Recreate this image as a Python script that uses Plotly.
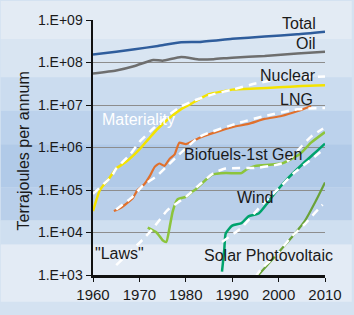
import plotly.graph_objects as go

# ---------------- data ----------------
total_years = [1960, 1965, 1969, 1974, 1979, 1983, 1990, 1997, 2004, 2010]
total_vals = [1.55e8, 1.8e8, 2.05e8, 2.45e8, 3.0e8, 3.05e8, 3.6e8, 4.1e8, 4.6e8, 5.3e8]

oil_years = [1960, 1965, 1969, 1973, 1975, 1979, 1983, 1986, 1990, 1997, 2004, 2010]
oil_vals = [5.5e7, 6.5e7, 8.3e7, 1.15e8, 1.1e8, 1.35e8, 1.18e8, 1.2e8, 1.3e8, 1.42e8, 1.62e8, 1.8e8]

nuc_years = [1960, 1961.5, 1963.5, 1965, 1967, 1969, 1970, 1972, 1974, 1977, 1979, 1981,
             1983, 1985, 1988, 1990, 1995, 2000, 2005, 2010]
nuc_vals = [3.2e4, 1.0e5, 1.9e5, 3.2e5, 4.5e5, 7.0e5, 9.0e5, 1.6e6, 2.8e6, 5.5e6, 8.0e6, 1.05e7,
            1.4e7, 1.8e7, 2.1e7, 2.3e7, 2.45e7, 2.6e7, 2.8e7, 2.9e7]
nuc_fit_years = [1960, 1964, 1965, 1968, 1970, 1973, 1976, 1979, 1982, 1986, 1990, 1995, 2000, 2005, 2010]
nuc_fit_vals = [8.1e4, 2.1e5, 3.2e5, 6.9e5, 1.35e6, 2.8e6, 5.5e6, 9.3e6, 1.3e7, 1.8e7, 2.3e7,
                3.2e7, 4.0e7, 4.4e7, 4.7e7]

lng_years = [1964.5, 1966, 1968.5, 1969.6, 1971, 1972.2, 1973.3, 1974.3, 1975.4, 1976.5, 1977.6,
             1978.6, 1980, 1983, 1986.5, 1990, 1993.5, 1997, 2000.6, 2004, 2007]
lng_vals = [3.2e4, 3.8e4, 6.3e4, 1.0e5, 1.35e5, 2.1e5, 3.5e5, 4.2e5, 3.7e5, 5.4e5, 6.9e5,
            1.3e6, 1.2e6, 1.7e6, 2.3e6, 3.0e6, 3.6e6, 4.7e6, 5.5e6, 7.1e6, 9.5e6]
lng_fit_years = [1965, 1968.5, 1970.7, 1973.7, 1975.8, 1978, 1983, 1991.4, 1997, 2004, 2010]
lng_fit_vals = [3.5e4, 6.9e4, 1.26e5, 2.1e5, 3.5e5, 6.0e5, 1.8e6, 3.8e6, 5.5e6, 7.9e6, 8.5e6]

bio_years = [1971.8, 1973.7, 1975, 1975.8, 1976.5, 1977.2, 1978.2, 1980, 1981.4, 1982.2, 1984.2,
             1985.7, 1988.6, 1992, 1993, 1995, 2000.6, 2004.5, 2007, 2010]
bio_vals = [1.3e4, 1.0e4, 6.6e3, 6.0e3, 1.3e4, 3.2e4, 6.0e4, 6.9e4, 9.1e4, 1.05e5, 1.7e5,
            2.3e5, 2.5e5, 2.5e5, 3.0e5, 3.7e5, 4.2e5, 6.9e5, 1.3e6, 2.3e6]
bio_fit_years = [1965, 1970.7, 1972.8, 1976, 1980, 1983, 1986, 1988.6, 1995, 1999, 2001.7,
                 2004.7, 2007, 2009.6]
bio_fit_vals = [1.7e3, 6.8e3, 1.2e4, 3.3e4, 6.9e4, 1.35e5, 2.5e5, 3.2e5, 3.3e5, 3.8e5, 4.6e5,
                1.0e6, 1.8e6, 2.8e6]

wind_years = [1987.8, 1988.3, 1988.6, 1990, 1992, 1993.5, 1995.7, 1997.4, 1999.3, 2001.7,
              2005.3, 2008, 2010]
wind_vals = [1.2e3, 4.0e3, 9.5e3, 1.45e4, 1.66e4, 2.4e4, 2.8e4, 4.6e4, 8.7e4, 1.74e5,
             4.2e5, 7.8e5, 1.23e6]
wind_fit_years = [1987.8, 1992, 1995.7, 1997.8, 2000.6, 2003.2, 2005.9, 2009]
wind_fit_vals = [6.0e3, 1.3e4, 3.7e4, 6.3e4, 1.26e5, 2.45e5, 4.2e5, 7.8e5]

solar_years = [1995, 1999.3, 2002.7, 2005.7, 2007.9, 2010]
solar_vals = [8.3e2, 2.8e3, 7.4e3, 1.9e4, 5.2e4, 1.5e5]
solar_fit_years = [1995, 1996.3, 1999.3, 2002.7, 2005.7, 2008.5, 2009.5]
solar_fit_vals = [8.9e2, 1.4e3, 2.8e3, 7.8e3, 1.6e4, 3.5e4, 4.5e4]

materiality_range = [1.3e6, 8.0e6]

x_ticks = [1960, 1970, 1980, 1990, 2000, 2010]
y_ticks = [1e3, 1e4, 1e5, 1e6, 1e7, 1e8, 1e9]
y_tick_labels = ["1.E+03", "1.E+04", "1.E+05", "1.E+06", "1.E+07", "1.E+08", "1.E+09"]

# ---------------- figure ----------------
W, H = 354, 315
L, R, T, B = 93, 27, 20, 28
pw, ph = W - L - R, H - T - B

FONT = "Liberation Sans"
TXT = "#1a1a1a"
fig = go.Figure()

series = [
    (total_years, total_vals, "#2f5d9c", 2.5),
    (oil_years, oil_vals, "#6e6e6e", 2.5),
    (nuc_years, nuc_vals, "#f4e300", 2.5),
    (lng_years, lng_vals, "#e0702c", 2.2),
    (bio_years, bio_vals, "#8cc43c", 2.5),
    (wind_years, wind_vals, "#00a36c", 2.5),
    (solar_years, solar_vals, "#6aa238", 2.2),
]
for xs, ys, c, w in series:
    fig.add_trace(go.Scatter(x=xs, y=ys, mode="lines",
                             line=dict(color=c, width=w, shape="spline", smoothing=0.5),
                             showlegend=False, hoverinfo="skip"))

fits = [
    (nuc_fit_years, nuc_fit_vals),
    (lng_fit_years, lng_fit_vals),
    (bio_fit_years, bio_fit_vals),
    (wind_fit_years, wind_fit_vals),
    (solar_fit_years, solar_fit_vals),
]
for xs, ys in fits:
    fig.add_trace(go.Scatter(x=xs, y=ys, mode="lines",
                             line=dict(color="white", width=2.5, dash="8px,6px",
                                       shape="spline", smoothing=0.5),
                             showlegend=False, hoverinfo="skip"))

# background sky gradient (paper coords extending into margins)
def py(pix):
    return (H - B - pix) / ph

x0p, x1p = -L / pw, (W - L) / pw
bands = [(0, 40, "#e3ebf4"), (40, 80, "#d9e5f2"), (80, 115, "#cbdcef"), (115, 150, "#bcd2ec"),
         (150, 195, "#b1cae8"), (195, 230, "#b9cfea"), (230, 255, "#cfdff0"), (255, 315, "#e3ebf5")]
shapes = []
for a, b, c in bands:
    shapes.append(dict(type="rect", xref="paper", yref="paper", x0=x0p, x1=x1p, y0=py(b), y1=py(a),
                       fillcolor=c, line=dict(width=0), layer="below"))
# materiality band (log10 of the range ends)
shapes.append(dict(type="rect", xref="x", yref="y", x0=1960, x1=2010,
                   y0=6.114, y1=6.903, fillcolor="rgba(80,128,195,0.6)", line=dict(width=0), layer="below"))
fig.update_layout(shapes=shapes)

ann_font = dict(family=FONT, size=16, color=TXT)
anns = [
    dict(x=2008.5, y=8.91, text="Total", xanchor="right"),
    dict(x=2008.5, y=8.45, text="Oil", xanchor="right"),
    dict(x=2008.5, y=7.69, text="Nuclear", xanchor="right"),
    dict(x=2007.9, y=7.13, text="LNG", xanchor="right"),
    dict(x=1992.4, y=5.84, text="Biofuels-1st Gen", xanchor="center"),
    dict(x=1995.0, y=4.82, text="Wind", xanchor="center"),
    dict(x=1965.8, y=3.50, text="\"Laws\"", xanchor="center"),
    dict(x=1997.8, y=3.45, text="Solar Photovoltaic", xanchor="center"),
]
annotations = []
for a in anns:
    a.update(xref="x", yref="y", showarrow=False, yanchor="middle", font=ann_font)
    annotations.append(a)
annotations.append(dict(x=1961.4, y=6.66, xref="x", yref="y", text="Materiality", showarrow=False,
                        xanchor="left", yanchor="middle",
                        font=dict(family=FONT, size=16, color="white")))
annotations.append(dict(x=(23 - L) / pw, y=py(157), xref="paper", yref="paper",
                        text="Terrajoules per annum", textangle=-90, showarrow=False,
                        xanchor="center", yanchor="middle", font=dict(family=FONT, size=16, color=TXT)))
fig.update_layout(annotations=annotations)

fig.update_layout(
    width=W, height=H,
    margin=dict(l=L, r=R, t=T, b=B, pad=0),
    paper_bgcolor="#d4e2f1",
    plot_bgcolor="rgba(0,0,0,0)",
    font=dict(family=FONT, size=14, color=TXT),
    hovermode=False,
    xaxis=dict(range=[1960, 2010], tickvals=x_ticks, showgrid=False, zeroline=False,
               showline=True, linecolor="#111", linewidth=2.5, ticks="outside", ticklen=4,
               tickcolor="#111", tickwidth=1, tickfont=dict(family=FONT, size=15, color=TXT)),
    yaxis=dict(type="log", range=[3, 9], tickvals=y_ticks, ticktext=y_tick_labels,
               showgrid=True, gridcolor="#8d8d8d", gridwidth=1, zeroline=False,
               showline=True, linecolor="#111", linewidth=2.5, ticks="outside", ticklen=5,
               tickcolor="#111", tickwidth=1, tickfont=dict(family=FONT, size=14, color=TXT)),
)

fig.write_html("out.html", config={"displayModeBar": False, "staticPlot": True},
               post_script="document.body.style.margin='0';document.body.style.background='#e3ebf4';")
